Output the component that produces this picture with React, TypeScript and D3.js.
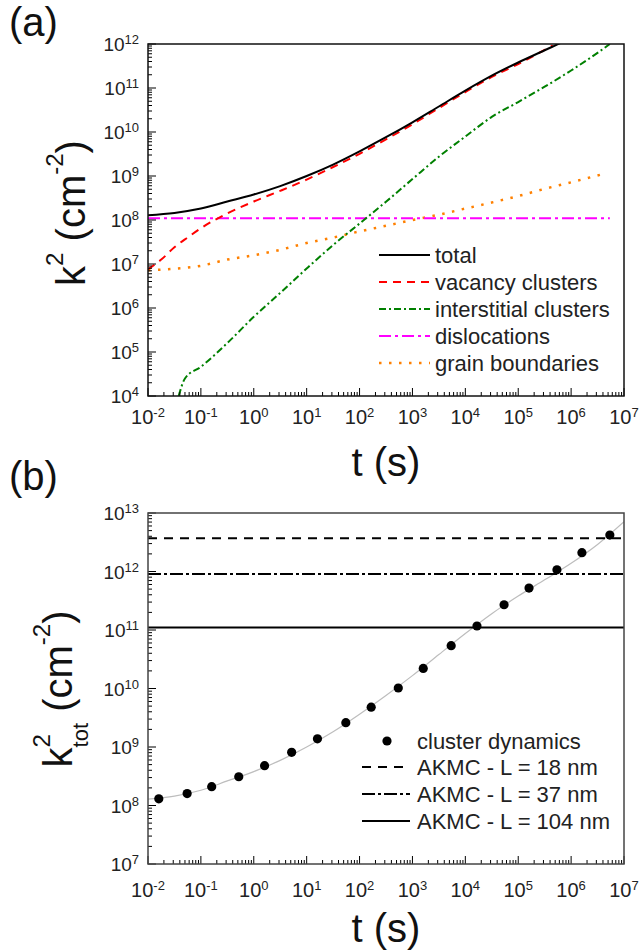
import React from 'react'
import * as d3 from 'd3'

const width = 642
const height = 951
const FONT = '"Liberation Sans", Arial, Helvetica, sans-serif'

// ---- panel (a) : sink strengths ----
const totalT = [1e-2, 3.16e-2, 1e-1, 3.16e-1, 1, 3.16, 10, 31.6, 100, 316, 1e3, 3.16e3, 1e4, 3.16e4, 1e5, 3.16e5, 1e6, 3.16e6, 1e7]
const totalK = [1.29e8, 1.45e8, 1.82e8, 2.63e8, 3.8e8, 5.9e8, 1.0e9, 1.82e9, 3.63e9, 7.6e9, 1.66e10, 3.8e10, 8.7e10, 1.9e11, 3.8e11, 7.2e11, 1.38e12, 2.9e12, 7.1e12]

const vacT = [1e-2, 1.78e-2, 3.16e-2, 5.6e-2, 1e-1, 3.16e-1, 1, 3.16, 10, 31.6, 100, 316, 1e3, 3.16e3, 1e4, 3.16e4, 1e5, 4.5e5]
const vacK = [7.6e6, 1.26e7, 2.4e7, 4.0e7, 6.5e7, 1.41e8, 2.63e8, 4.6e8, 8.3e8, 1.6e9, 3.2e9, 6.8e9, 1.5e10, 3.5e10, 8.1e10, 1.78e11, 3.5e11, 9.3e11]

const intT = [3.8e-2, 5e-2, 1e-1, 3.16e-1, 1, 3.16, 10, 31.6, 100, 316, 1e3, 3.16e3, 1e4, 3.16e4, 1e5, 3.16e5, 1e6, 3.16e6, 5.4e6]
const intK = [1e4, 2.5e4, 4.6e4, 1.6e5, 6.3e5, 2.2e6, 7.9e6, 2.7e7, 8.3e7, 2.6e8, 8.5e8, 2.75e9, 7.9e9, 2.2e10, 4.8e10, 1.07e11, 2.5e11, 6.3e11, 1e12]

const disT = [1e-2, 5.4e6]
const disK = [1.1e8, 1.1e8]

const gbT = [1e-2, 3.16e-2, 1e-1, 3.16e-1, 1, 3.16, 10, 31.6, 100, 316, 1e3, 3.16e3, 1e4, 3.16e4, 1e5, 3.16e5, 1e6, 4.8e6]
const gbK = [7.2e6, 7.8e6, 9.1e6, 1.26e7, 1.58e7, 2.1e7, 3.0e7, 4.0e7, 5.5e7, 7.4e7, 1.0e8, 1.32e8, 1.82e8, 2.5e8, 3.5e8, 5.1e8, 7.2e8, 1.17e9]

const seriesA = [
  { label: 'total', t: totalT, k: totalK, color: '#000000', dash: 'none', w: 2 },
  { label: 'vacancy clusters', t: vacT, k: vacK, color: '#ff0000', dash: '8,6', w: 2 },
  { label: 'interstitial clusters', t: intT, k: intK, color: '#008000', dash: '7,3,2,3', w: 2 },
  { label: 'dislocations', t: disT, k: disK, color: '#ff00ff', dash: '12,4,3,4', w: 2 },
  { label: 'grain boundaries', t: gbT, k: gbK, color: '#ff8000', dash: '2.5,7.5', w: 2.5 },
]

// ---- panel (b) : total sink strength vs AKMC ----
const cdT = [1.6e-2, 5.5e-2, 0.16, 0.52, 1.6, 5.2, 16, 55, 166, 540, 1.6e3, 5.4e3, 1.66e4, 5.4e4, 1.6e5, 5.4e5, 1.6e6, 5.4e6]
const cdK = [1.3e8, 1.6e8, 2.1e8, 3.1e8, 4.8e8, 8.1e8, 1.38e9, 2.6e9, 4.8e9, 1.02e10, 2.2e10, 5.4e10, 1.17e11, 2.7e11, 5.2e11, 1.07e12, 2.1e12, 4.2e12]

const akmcK = [3.7e12, 9.1e11, 1.1e11]
const akmcLabels = ['AKMC - L = 18 nm', 'AKMC - L = 37 nm', 'AKMC - L = 104 nm']
const akmcDash = ['9,7', '13,3,3,3', 'none']

const xExps = [-2, -1, 0, 1, 2, 3, 4, 5, 6, 7]
const yExpsA = [4, 5, 6, 7, 8, 9, 10, 11, 12]
const yExpsB = [7, 8, 9, 10, 11, 12, 13]

const L = 148
const R = 624
const x = d3.scaleLog().domain([1e-2, 1e7]).range([L, R])
const yA = d3.scaleLog().domain([1e4, 1e12]).range([396, 44])
const yB = d3.scaleLog().domain([1e7, 1e13]).range([864, 513])

function minors(exps: number[]) {
  const out: number[] = []
  for (let i = 0; i < exps.length - 1; i++) {
    for (let m = 2; m <= 9; m++) out.push(m * Math.pow(10, exps[i]))
  }
  return out
}

function Pow({ px, py, e, anchor, size, sup }: { px: number; py: number; e: number; anchor: string; size: number; sup: number }) {
  return (
    <text x={px} y={py} textAnchor={anchor} fontSize={size} fontFamily={FONT} fill="#222">
      10<tspan dy={-7} fontSize={sup}>{e}</tspan>
    </text>
  )
}

function Axes({ y, yExps, top, bottom, xLabelDy, frame }: any) {
  return (
    <g>
      {xExps.map((e) => (
        <line key={'xM' + e} x1={x(Math.pow(10, e))} x2={x(Math.pow(10, e))} y1={bottom} y2={bottom - 8} stroke="#000" strokeWidth={1} />
      ))}
      {minors(xExps).map((v, i) => (
        <line key={'xm' + i} x1={x(v)} x2={x(v)} y1={bottom} y2={bottom - 4} stroke="#000" strokeWidth={1} />
      ))}
      {yExps.map((e: number) => (
        <line key={'yM' + e} x1={L} x2={L + 8} y1={y(Math.pow(10, e))} y2={y(Math.pow(10, e))} stroke="#000" strokeWidth={1} />
      ))}
      {minors(yExps).map((v, i) => (
        <line key={'ym' + i} x1={L} x2={L + 4} y1={y(v)} y2={y(v)} stroke="#000" strokeWidth={1} />
      ))}
      <rect x={L} y={top} width={R - L} height={bottom - top} fill="none" stroke={frame} strokeWidth={1.5} />
      {xExps.map((e) => (
        <Pow key={'xl' + e} px={x(Math.pow(10, e))} py={bottom + xLabelDy} e={e} anchor="middle" size={20} sup={13} />
      ))}
      {yExps.map((e: number) => (
        <Pow key={'yl' + e} px={139} py={y(Math.pow(10, e)) + 7} e={e} anchor="end" size={19} sup={13} />
      ))}
    </g>
  )
}

export default function App() {
  const lineA = (t: number[], k: number[]) =>
    d3.line<number>().x((_, i) => x(t[i])).y((_, i) => yA(k[i])).curve(d3.curveMonotoneX)(t.map((_, i) => i)) || ''
  const lineB = (t: number[], k: number[]) =>
    d3.line<number>().x((_, i) => x(t[i])).y((_, i) => yB(k[i])).curve(d3.curveMonotoneX)(t.map((_, i) => i)) || ''

  return (
    <svg width={width} height={height} style={{ position: 'absolute', left: 0, top: 0, background: '#fff' }}>
      <defs>
        <clipPath id="clipA">
          <rect x={L} y={44} width={R - L} height={396 - 44} />
        </clipPath>
        <clipPath id="clipB">
          <rect x={L} y={513} width={R - L} height={864 - 513} />
        </clipPath>
      </defs>
      <rect x={0} y={0} width={width} height={height} fill="#fff" />

      {/* panel (a) */}
      <text x={9} y={36} fontSize={40} fontFamily={FONT} fill="#111">(a)</text>
      <g clipPath="url(#clipA)">
        {seriesA.slice().reverse().map((s) => (
          <path key={s.label} d={lineA(s.t, s.k)} fill="none" stroke={s.color} strokeWidth={s.w} strokeDasharray={s.dash} />
        ))}
      </g>
      <Axes y={yA} yExps={yExpsA} top={44} bottom={396} xLabelDy={28} frame="#111" />
      {seriesA.map((s, i) => (
        <g key={'lg' + s.label}>
          <line x1={379} x2={430} y1={255 + i * 27} y2={255 + i * 27} stroke={s.color} strokeWidth={s.w} strokeDasharray={s.dash} />
          <text x={435} y={255 + i * 27 + 7.5} fontSize={22} fontFamily={FONT} fill="#222">{s.label}</text>
        </g>
      ))}
      <text transform="translate(85,213) rotate(-90)" textAnchor="middle" fontSize={40} fontFamily={FONT} fill="#111">
        k<tspan dy={-22} fontSize={24}>2</tspan>
        <tspan dy={22}> (cm</tspan>
        <tspan dy={-22} fontSize={24}>-2</tspan>
        <tspan dy={22}>)</tspan>
      </text>
      <text x={386} y={476} textAnchor="middle" fontSize={40} fontFamily={FONT} fill="#111">t (s)</text>

      {/* panel (b) */}
      <text x={9} y={490} fontSize={40} fontFamily={FONT} fill="#111">(b)</text>
      <g clipPath="url(#clipB)">
        <path d={lineB(totalT, totalK)} fill="none" stroke="#bdbdbd" strokeWidth={1.2} />
        {akmcK.map((v, i) => (
          <line key={'ak' + i} x1={L} x2={R} y1={yB(v)} y2={yB(v)} stroke="#000" strokeWidth={2} strokeDasharray={akmcDash[i]} />
        ))}
        {cdT.map((t, i) => (
          <circle key={'cd' + i} cx={x(t)} cy={yB(cdK[i])} r={4.6} fill="#000" />
        ))}
      </g>
      <Axes y={yB} yExps={yExpsB} top={513} bottom={864} xLabelDy={33} frame="#444" />
      <circle cx={387} cy={741} r={4.6} fill="#000" />
      <text x={417} y={748.5} fontSize={22} fontFamily={FONT} fill="#222">cluster dynamics</text>
      {akmcLabels.map((lab, i) => (
        <g key={'lb' + i}>
          <line x1={362} x2={410} y1={767 + i * 27} y2={767 + i * 27} stroke="#000" strokeWidth={2} strokeDasharray={akmcDash[i]} />
          <text x={417} y={767 + i * 27 + 7.5} fontSize={22} fontFamily={FONT} fill="#222">{lab}</text>
        </g>
      ))}
      <text transform="translate(72,689) rotate(-90)" textAnchor="middle" fontSize={40} fontFamily={FONT} fill="#111">
        k<tspan dy={-22} fontSize={24}>2</tspan>
        <tspan dx={-13.3} dy={38} fontSize={22}>tot</tspan>
        <tspan dy={-16}> (cm</tspan>
        <tspan dy={-22} fontSize={24}>-2</tspan>
        <tspan dy={22}>)</tspan>
      </text>
      <text x={386} y={942} textAnchor="middle" fontSize={40} fontFamily={FONT} fill="#111">t (s)</text>
    </svg>
  )
}
